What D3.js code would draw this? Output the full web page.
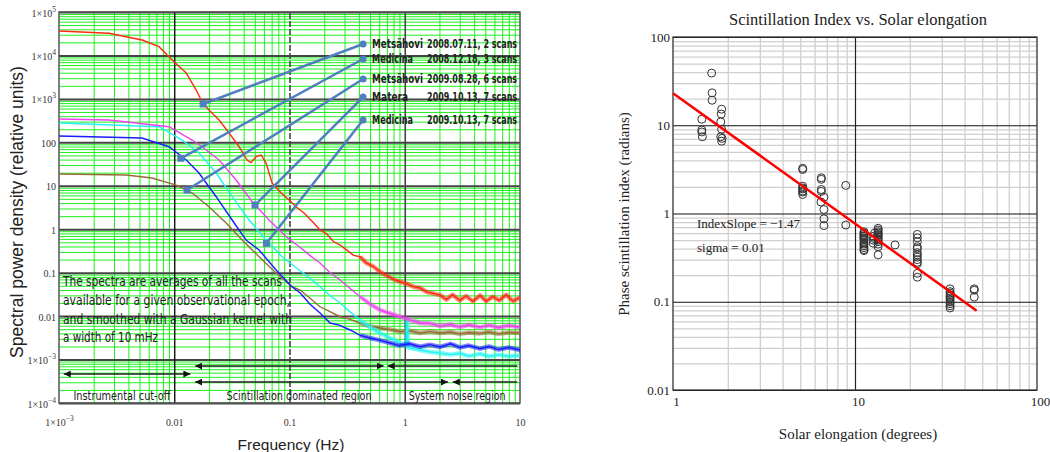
<!DOCTYPE html>
<html><head><meta charset="utf-8">
<script src="https://cdn.jsdelivr.net/npm/d3@7"></script>
<style>body{margin:0;background:#fff}</style>
</head><body><svg id="c" width="1050" height="452"></svg>
<script>
// ---------- LEFT CHART DATA (frequency Hz, spectral power density) ----------
const redF = [0.001,0.00272,0.00525,0.00738,0.00957,0.0127,0.0155,0.0174,0.0200,0.0245,0.0299,0.0365,0.0429,0.0464,0.0513,0.0567,0.0626,0.0706,0.0846,0.0993,0.114,0.135,0.16,0.184,0.21,0.24,0.275,0.31,0.36,0.41,0.46,0.53,0.611,0.7,0.8,0.912,1.05,1.2,1.36,1.55,1.8,2.03,2.3,2.6,3.0,3.4,3.9,4.5,5.1,5.8,6.6,7.6,8.7,10];
const redP = [36600,32400,22700,15900,7850,3940,1600,861,555,327,164,79.3,39.2,34.0,46.7,51.1,33.4,11.6,6.81,4.70,3.30,2.3,1.45,0.959,0.78,0.52,0.433,0.34,0.25,0.233,0.17,0.14,0.105,0.085,0.07,0.0618,0.055,0.047,0.0443,0.036,0.033,0.0305,0.024,0.031,0.023,0.029,0.022,0.030,0.022,0.028,0.023,0.031,0.022,0.027];
const magF = [0.001,0.00272,0.00901,0.0143,0.0174,0.0245,0.0344,0.0474,0.0665,0.0934,0.124,0.15,0.184,0.22,0.275,0.33,0.41,0.5,0.611,0.75,0.912,1.1,1.36,1.65,2.03,2.5,3.0,3.6,4.5,5.4,6.5,8,10];
const magP = [344,327,229,113,79.3,39.2,13.6,4.30,1.63,0.672,0.38,0.25,0.167,0.105,0.0678,0.045,0.0279,0.019,0.0138,0.0115,0.00968,0.0082,0.00693,0.0068,0.0059,0.0064,0.0056,0.0063,0.0055,0.0062,0.0054,0.0061,0.0055];
const cyanF = [0.001,0.00738,0.0117,0.0164,0.0231,0.0318,0.0446,0.0626,0.0863,0.121,0.15,0.184,0.22,0.275,0.33,0.41,0.5,0.611,0.75,0.912,1.03,1.05,1.07,1.36,1.65,2.03,2.5,3.0,3.6,4.5,5.4,6.5,8,10];
const cyanP = [279,229,113,56.8,19.7,5.60,1.63,0.564,0.233,0.115,0.075,0.0474,0.031,0.0200,0.013,0.00812,0.0056,0.00408,0.0031,0.00240,0.0021,0.008,0.0019,0.00166,0.0015,0.00141,0.0013,0.0014,0.0012,0.00135,0.00118,0.0013,0.00118,0.00125];
const blueF = [0.001,0.00525,0.00901,0.0127,0.0164,0.0231,0.0318,0.042,0.0545,0.0765,0.105,0.124,0.15,0.184,0.225,0.27,0.336,0.41,0.501,0.6,0.746,0.9,1.1,1.36,1.65,2.03,2.5,3.0,3.6,4.5,5.4,6.5,8,10];
const blueP = [140,126,79.3,39.2,19.7,5.60,1.63,0.564,0.332,0.115,0.0474,0.0340,0.019,0.0118,0.00693,0.0062,0.00479,0.0036,0.00313,0.0028,0.00240,0.0021,0.0023,0.00197,0.0022,0.00195,0.0023,0.0019,0.0021,0.00178,0.002,0.0017,0.0019,0.00166];
const brownF = [0.001,0.00382,0.00641,0.0104,0.0143,0.0200,0.0282,0.0388,0.0545,0.0765,0.105,0.124,0.15,0.184,0.22,0.275,0.33,0.41,0.5,0.611,0.75,0.912,1.1,1.36,1.65,2.03,2.5,3.0,3.6,4.5,5.4,6.5,8,10];
const brownP = [18.7,17.7,15.1,10.4,6.81,3.30,1.39,0.564,0.233,0.0982,0.0474,0.0398,0.026,0.0164,0.013,0.00968,0.0085,0.00693,0.0058,0.00532,0.0049,0.00438,0.0046,0.0041,0.0044,0.00408,0.0043,0.0039,0.0042,0.0040,0.0043,0.0039,0.0042,0.00408];

const legendNames = ["Metsähovi","Medicina","Metsähovi","Matera","Medicina"];
const legendDates = ["2008.07.11, 2 scans","2008.12.18, 3 scans","2009.08.28, 6 scans","2009.10.13, 7 scans","2009.10.13, 7 scans"];
const markF = [0.0178,0.0114,0.0129,0.0502,0.0631];
const markP = [762,42.9,7.98,3.60,0.473];
const legendF = 0.435;
const legendP = [18300,8280,2870,1100,327];

const leftYTicks = [1e-4,1e-3,0.01,0.1,1,10,100,1e3,1e4,1e5];
const leftXTicks = [1e-3,0.01,0.1,1,10];

const noteLines = ["The spectra are averages of all the scans","available for  a given observational epoch,","and smoothed with a Gaussian kernel with","a width of 10 mHz"];
const arrowF0 = [0.0152,0.711,0.0011,0.0152,2.61];
const arrowF1 = [0.656,9.46,0.0138,2.37,9.46];
const arrowP  = [7.1e-4,7.1e-4,4.65e-4,3.04e-4,3.04e-4];
const arrowEndHead = [true,false,true,true,false];
const regionLabels = ["Instrumental cut-off","Scintillation dominated region","System noise region"];
const regionF = [0.00352,0.121,2.85];

// ---------- RIGHT CHART DATA (solar elongation deg, phase scintillation index rad) ----------
const elong = [1.63,1.64,1.64,1.85,1.84,1.44,1.83,1.44,1.44,1.45,1.85,1.83,1.86,1.85,
  5.16,5.16,5.16,5.16,5.16,5.16,5.16,5.16,
  6.53,6.53,6.53,6.53,6.75,6.5,6.75,6.75,6.75,
  8.9,8.9,
  11.2,11.2,11.2,11.2,11.2,11.2,11.2,11.2,11.2,11.2,11.2,11.2,11.2,11.2,
  13.4,13.4,13.4,13.4,13.4,13.4,13.4,13.4,13.4,13.4,13.4,13.4,13.4,12.6,12.6,12.6,12.8,12.8,
  16.6,
  22,22,22,22,22,22,22,22,22,22,22,22,22,
  33.3,33.3,33.3,33.3,33.3,33.3,33.3,33.3,33.3,33.3,33.3,
  45.2,45.2,45.2];
const sIndex = [39,23.3,19.2,15.2,13.4,11.7,10.9,8.85,8.4,7.4,9.0,7.4,7.1,6.6,
  3.25,3.15,2.04,1.95,1.9,1.8,1.75,1.64,
  2.54,2.44,1.87,1.78,1.53,1.35,1.11,0.87,0.73,
  2.08,0.74,
  0.62,0.6,0.58,0.56,0.55,0.53,0.52,0.5,0.47,0.45,0.43,0.41,0.39,0.38,
  0.68,0.65,0.62,0.6,0.58,0.56,0.54,0.52,0.5,0.48,0.45,0.42,0.34,0.55,0.5,0.46,0.6,0.52,
  0.44,
  0.58,0.53,0.48,0.42,0.4,0.36,0.34,0.32,0.3,0.28,0.27,0.21,0.19,
  0.14,0.13,0.125,0.12,0.115,0.11,0.105,0.1,0.095,0.09,0.085,
  0.14,0.135,0.113];
const fitX = [1,46.6];
const fitY = [23.1,0.079];
const rightTicksY = [0.01,0.1,1,10,100];
const rightTicksX = [1,10,100];

// ---------- DRAWING ----------
const svg = d3.select("#c");
svg.append("rect").attr("width",1050).attr("height",452).attr("fill","#fff");
const defs = svg.append("defs");
defs.append("marker").attr("id","tri").attr("viewBox","0 0 8 8").attr("refX",8).attr("refY",4)
  .attr("markerWidth",7).attr("markerHeight",7).attr("markerUnits","userSpaceOnUse")
  .attr("orient","auto-start-reverse")
  .append("path").attr("d","M0,0L8,4L0,8Z").attr("fill","#111");

const L = {x0:59,x1:520,y0:12,y1:403};
const xL = d3.scaleLog().domain([1e-3,10]).range([L.x0,L.x1]);
const yL = d3.scaleLog().domain([1e-4,1e5]).range([L.y1,L.y0]);

function minorVals(d0,d1){const a=[];for(let d=d0;d<=d1;d++)for(let k=2;k<=9;k++)a.push(k*Math.pow(10,d));return a;}

// green minor grid
const gmx = svg.append("g").attr("transform",`translate(0,${L.y1})`)
  .call(d3.axisBottom(xL).tickValues(minorVals(-3,0)).tickSize(-(L.y1-L.y0)).tickFormat(""));
gmx.select(".domain").remove();
gmx.selectAll("line").attr("stroke","#1ef01e").attr("stroke-width",1);
const gmy = svg.append("g").attr("transform",`translate(${L.x0},0)`)
  .call(d3.axisLeft(yL).tickValues(minorVals(-4,4)).tickSize(-(L.x1-L.x0)).tickFormat(""));
gmy.select(".domain").remove();
gmy.selectAll("line").attr("stroke","#1ef01e").attr("stroke-width",1);

// major horizontal lines + labels
function mcLabel(t,d){
  t.text(null);
  const e = Math.round(Math.log10(d));
  if (e>=3 || e<=-3){
    t.append("tspan").text("1×10");
    t.append("tspan").attr("dy",-5).attr("font-size",7.5).text(String(e).replace("-","−"));
  } else {
    t.text(e>=0 ? String(Math.pow(10,e)) : (e===-1?"0.1":"0.01"));
  }
}
const gy = svg.append("g").attr("transform",`translate(${L.x0},0)`)
  .call(d3.axisLeft(yL).tickValues(leftYTicks).tickSize(-(L.x1-L.x0)).tickPadding(3));
gy.select(".domain").remove();
gy.selectAll("line").attr("stroke","#444").attr("stroke-width",2);
gy.selectAll("text").attr("font-family","Liberation Serif, serif").attr("font-size",10).attr("fill","#333")
  .attr("dy","0.4em").each(function(d){mcLabel(d3.select(this),d);});

// major vertical lines
const gvx = svg.append("g").attr("transform",`translate(0,${L.y1})`)
  .call(d3.axisBottom(xL).tickValues([0.01,0.1,1]).tickSize(-(L.y1-L.y0)).tickFormat(""));
gvx.select(".domain").remove();
gvx.selectAll("line").attr("stroke",d=>d===0.01?"#000":"#444").attr("stroke-width",d=>d===0.01?1.3:1.6)
  .attr("stroke-dasharray",d=>d===0.1?"6,2":null);
const gx = svg.append("g").attr("transform",`translate(0,${L.y1})`)
  .call(d3.axisBottom(xL).tickValues(leftXTicks).tickSize(0));
gx.select(".domain").remove();
gx.selectAll("text").attr("font-family","Liberation Serif, serif").attr("font-size",10).attr("fill","#333")
  .attr("y",23).attr("dy",0).each(function(d){mcLabel(d3.select(this),d);});

svg.append("rect").attr("x",L.x0).attr("y",L.y0).attr("width",L.x1-L.x0).attr("height",L.y1-L.y0)
  .attr("fill","none").attr("stroke","#555").attr("stroke-width",1.5);

// spectra
const lineL = d3.line().x(d=>xL(d[0])).y(d=>yL(d[1]));
const series = [
  {f:brownF,p:brownP,c:"#9a6a3a"},
  {f:cyanF,p:cyanP,c:"#22f4f4"},
  {f:blueF,p:blueP,c:"#1a1aff"},
  {f:magF,p:magP,c:"#f040f0"},
  {f:redF,p:redP,c:"#ff2a10"}
];
series.forEach(s=>{
  const pts = s.f.map((f,i)=>[f,s.p[i]]);
  svg.append("path").attr("d",lineL(pts)).attr("fill","none").attr("stroke",s.c).attr("stroke-width",1.4);
  const tail = pts.filter(d=>d[0]>=0.4);
  svg.append("path").attr("d",lineL(tail)).attr("fill","none").attr("stroke",s.c).attr("stroke-width",4.5)
    .attr("stroke-opacity",0.55).attr("stroke-linejoin","round");
});

// leader lines + legend
const lc = "#4f7fbf";
const nameW = {"Metsähovi":51,"Medicina":41,"Matera":36};
const legFont = "Liberation Sans Narrow, DejaVu Sans Condensed, Liberation Sans, sans-serif";
legendP.forEach((p,i)=>{
  svg.append("line").attr("x1",xL(markF[i])).attr("y1",yL(markP[i])).attr("x2",xL(legendF)).attr("y2",yL(p))
    .attr("stroke",lc).attr("stroke-width",2.5);
  svg.append("rect").attr("x",xL(markF[i])-3.5).attr("y",yL(markP[i])-3.5).attr("width",7).attr("height",7).attr("fill",lc);
  svg.append("circle").attr("cx",xL(legendF)).attr("cy",yL(p)).attr("r",3.5).attr("fill",lc);
  svg.append("text").attr("x",xL(legendF)+9).attr("y",yL(p)+4).text(legendNames[i])
    .attr("font-family",legFont).attr("font-weight","bold")
    .attr("font-size",11.5).attr("fill","#222").attr("textLength",nameW[legendNames[i]]).attr("lengthAdjust","spacingAndGlyphs");
  svg.append("text").attr("x",xL(legendF)+64).attr("y",yL(p)+4).text(legendDates[i])
    .attr("font-family",legFont).attr("font-weight","bold")
    .attr("font-size",11.5).attr("fill","#222").attr("textLength",90).attr("lengthAdjust","spacingAndGlyphs");
});

// note text
const noteW = [219,227,229,95];
noteLines.forEach((t,i)=>{
  svg.append("text").attr("x",63).attr("y",286+i*18.8).text(t)
    .attr("font-family",legFont)
    .attr("font-size",14.5).attr("fill","#222").attr("textLength",noteW[i]).attr("lengthAdjust","spacingAndGlyphs");
});

// arrows
arrowF0.forEach((f0,i)=>{
  svg.append("line").attr("x1",xL(f0)).attr("x2",xL(arrowF1[i])).attr("y1",yL(arrowP[i])).attr("y2",yL(arrowP[i]))
    .attr("stroke","#222").attr("stroke-width",1.5)
    .attr("marker-start","url(#tri)").attr("marker-end",arrowEndHead[i]?"url(#tri)":null);
});
const regW = [97,145,97];
regionLabels.forEach((t,i)=>{
  svg.append("text").attr("x",xL(regionF[i])).attr("y",400).attr("text-anchor","middle").text(t)
    .attr("font-family",legFont)
    .attr("font-size",12.5).attr("fill","#222").attr("textLength",regW[i]).attr("lengthAdjust","spacingAndGlyphs");
});

// left axis titles
svg.append("text").attr("transform","translate(17,212) rotate(-90)").attr("text-anchor","middle").attr("dy","0.35em")
  .attr("font-family","Liberation Sans, Arial, sans-serif").attr("font-size",17.5).attr("fill","#222")
  .text("Spectral power density (relative units)");
svg.append("text").attr("x",291).attr("y",450).attr("text-anchor","middle")
  .attr("font-family","Liberation Sans, Arial, sans-serif").attr("font-size",15.5).attr("fill","#222")
  .text("Frequency (Hz)");

// ---------- RIGHT CHART ----------
const R = {x0:673,x1:1037,y0:37,y1:390};
const xR = d3.scaleLog().domain([1,100]).range([R.x0,R.x1]);
const yR = d3.scaleLog().domain([0.01,100]).range([R.y1,R.y0]);

const rmx = svg.append("g").attr("transform",`translate(0,${R.y1})`)
  .call(d3.axisBottom(xR).tickValues(minorVals(0,1)).tickSize(-(R.y1-R.y0)).tickFormat(""));
rmx.select(".domain").remove();
rmx.selectAll("line").attr("stroke","#cfcfcf").attr("stroke-width",1.3);
const rmy = svg.append("g").attr("transform",`translate(${R.x0},0)`)
  .call(d3.axisLeft(yR).tickValues(minorVals(-2,1)).tickSize(-(R.x1-R.x0)).tickFormat(""));
rmy.select(".domain").remove();
rmy.selectAll("line").attr("stroke","#cfcfcf").attr("stroke-width",1.3);

const ry = svg.append("g").attr("transform",`translate(${R.x0},0)`)
  .call(d3.axisLeft(yR).tickValues(rightTicksY).tickSize(-(R.x1-R.x0)).tickPadding(3).tickFormat(d=>String(d)));
ry.select(".domain").remove();
ry.selectAll("line").attr("stroke","#111").attr("stroke-width",1.2);
ry.selectAll("text").attr("font-family","Liberation Serif, serif").attr("font-size",13).attr("fill","#222");
const rx = svg.append("g").attr("transform",`translate(0,${R.y1})`)
  .call(d3.axisBottom(xR).tickValues(rightTicksX).tickSize(-(R.y1-R.y0)).tickFormat(d=>String(d)));
rx.select(".domain").remove();
rx.selectAll("line").attr("stroke",d=>d===10?"#222":"none").attr("stroke-width",1.2);
rx.selectAll("text").attr("font-family","Liberation Serif, serif").attr("font-size",13).attr("fill","#222")
  .attr("y",16).attr("dy",0).attr("dx",3);
svg.append("rect").attr("x",R.x0).attr("y",R.y0).attr("width",R.x1-R.x0).attr("height",R.y1-R.y0)
  .attr("fill","none").attr("stroke","#333").attr("stroke-width",1.3);

// scatter
svg.append("g").selectAll("circle").data(elong.map((e,i)=>[e,sIndex[i]])).join("circle")
  .attr("cx",d=>xR(d[0])).attr("cy",d=>yR(d[1])).attr("r",4)
  .attr("fill","none").attr("stroke","#333").attr("stroke-width",1);
// fit line
svg.append("line").attr("x1",xR(fitX[0])).attr("y1",yR(fitY[0])).attr("x2",xR(fitX[1])).attr("y2",yR(fitY[1]))
  .attr("stroke","#ff0000").attr("stroke-width",2.5);

svg.append("text").attr("x",697).attr("y",228).text("IndexSlope = −1.47")
  .attr("font-family","Liberation Serif, serif").attr("font-size",13).attr("fill","#222");
svg.append("text").attr("x",697).attr("y",252).text("sigma = 0.01")
  .attr("font-family","Liberation Serif, serif").attr("font-size",13).attr("fill","#222");

svg.append("text").attr("x",858).attr("y",25).attr("text-anchor","middle").text("Scintillation Index vs. Solar elongation")
  .attr("font-family","Liberation Serif, serif").attr("font-size",16.5).attr("fill","#222");
svg.append("text").attr("x",858).attr("y",439).attr("text-anchor","middle").text("Solar elongation (degrees)")
  .attr("font-family","Liberation Serif, serif").attr("font-size",15).attr("fill","#222");
svg.append("text").attr("transform","translate(624,214) rotate(-90)").attr("text-anchor","middle").attr("dy","0.35em")
  .text("Phase scintillation index (radians)")
  .attr("font-family","Liberation Serif, serif").attr("font-size",15).attr("fill","#222");
</script></body></html>
